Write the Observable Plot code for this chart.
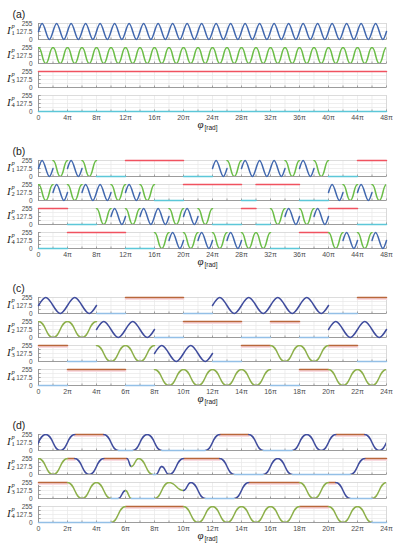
<!DOCTYPE html>
<html><head><meta charset="utf-8">
<script src="https://cdn.jsdelivr.net/npm/d3@7"></script>
<script src="https://cdn.jsdelivr.net/npm/@observablehq/plot@0.6"></script>
<style>
body{margin:0;background:#fff;width:397px;height:550px;overflow:hidden;font-family:"Liberation Sans",Arial,sans-serif}
#chart svg{display:block}
</style></head><body><div id="chart"></div>
<script>
// Segment codes, one character per 2π period:
// B = sine pattern (blue), G = cosine pattern (green), R = held at 255 (red), C = held at 0 (cyan)
const panelA = ["BBBBBBBBBBBBBBBBBBBBBBBB", "GGGGGGGGGGGGGGGGGGGGGGGG", "RRRRRRRRRRRRRRRRRRRRRRRR", "CCCCCCCCCCCCCCCCCCCCCCCC"];
const panelB = ["BGBGCCRRRRCCBGBBBGBGCCRR", "GBGBBGBGCCRRRRCRRRCCBGBG", "RRCCGBGBBGBGCCRCGBGBRRCC", "CCRRRRCCGBGBGBGGCCRRGBGB"];
const panelC = ["BBCRRCBBBBCR", "GGBBCRRCRCBB", "RCGGBBCRGGRC", "CRRCGGGGCRGG"];
// Panel d: knots [φ/π, intensity, colour code of the piece that follows]
const panelD = [
  [[-0.5,0,"B"],[0.5,255,"B"],[1.5,0,"B"],[2.5,255,"R"],[4.5,255,"B"],[5.5,0,"C"],[6.5,0,"B"],[7.5,255,"B"],[8.5,0,"C"],[11.5,0,"B"],[12.5,255,"R"],[14.5,255,"B"],[15.5,0,"C"],[17.5,0,"B"],[18.5,255,"B"],[19.5,0,"B"],[20.5,255,"R"],[22.5,255,"B"],[23.5,0,"B"],[24.5,255,""]],
  [[0,255,"G"],[1,0,"G"],[2,255,"R"],[2.5,255,"B"],[3.5,0,"B"],[4.5,255,"R"],[6.1,255,"B"],[6.4,127.5,"G"],[6.9,255,"G"],[7.9,0,"C"],[8.1,0,"B"],[8.5,127.5,"B"],[9,0,"B"],[10,255,"R"],[12.5,255,"B"],[13.5,0,"C"],[15.5,0,"B"],[16.5,255,"B"],[17.5,0,"C"],[21.5,0,"B"],[22.5,255,"R"],[24,255,""]],
  [[0,255,"R"],[2,255,"G"],[3,0,"G"],[4,255,"G"],[5,0,"C"],[5.5,0,"B"],[6,127.5,"G"],[6.4,0,"C"],[8,0,"G"],[9,255,"G"],[10,127.5,"B"],[10.5,255,"B"],[11.5,0,"C"],[13.5,0,"B"],[14.5,255,"R"],[18,255,"G"],[19,0,"G"],[20,255,"R"],[20.5,255,"B"],[21.5,0,"C"],[23,0,"G"],[24,255,""]],
  [[0,0,"C"],[5,0,"G"],[6,255,"R"],[10,255,"G"],[11,0,"G"],[12,255,"G"],[13,0,"G"],[14,255,"G"],[15,0,"G"],[16,255,"G"],[17,0,"G"],[18,255,"R"],[20,255,"G"],[21,0,"G"],[22,255,"G"],[23,0,"C"],[24,0,""]]
];
const rowNames = ["1", "2", "3", "4"];
const panelLabels = ["(a)", "(b)", "(c)", "(d)"];
const yTicks = [0, 127.5, 255];

const palAB = {B: "#4067ae", G: "#6bbd47", R: "#f0525f", C: "#5cc7d8"};
const palCD = {B: "#3f4c9d", G: "#8db04b", R: "#b8663a", C: "#93bfe6"};
const glowCD = "#fadbe1";

const BQ = [127.5, 255, 127.5, 0];   // sine pattern at quarter periods
const GQ = [255, 127.5, 0, 127.5];   // cosine pattern at quarter periods
function level(code, x) {
  const i = ((Math.round(2 * x) % 4) + 4) % 4;
  return code === "B" ? BQ[i] : GQ[i];
}
function codesToPieces(str) {
  const out = [];
  for (let i = 0; i < str.length; i++) {
    const c = str[i], a = i * 2, b = a + 2;
    if (out.length && out[out.length - 1][2] === c) out[out.length - 1][1] = b;
    else out.push([a, b, c]);
  }
  return out;
}
function buildCodes(rowsPieces) {
  const holds = [], nat = [], bump = [];
  let id = 0;
  rowsPieces.forEach((pieces, r) => {
    pieces.forEach(([a, b, code]) => {
      id++;
      if (code === "R" || code === "C") {
        const v = code === "R" ? 255 : 0;
        holds.push({row: r + 1, id, code, x: a, y: v}, {row: r + 1, id, code, x: b, y: v});
        return;
      }
      const pts = [];
      for (let k = 0; a + k * 0.5 <= b + 1e-9; k++) {
        const x = a + k * 0.5;
        pts.push({row: r + 1, id, code, x, y: level(code, x)});
      }
      if (code === "G") bump.push(...pts.filter(p => p.y !== 127.5));
      else nat.push(...pts);
    });
  });
  return {holds, nat, bump};
}
function buildKnots(rowsKnots) {
  const holds = [], bump = [];
  let id = 0;
  rowsKnots.forEach((knots, r) => {
    for (let i = 0; i < knots.length - 1; i++) {
      id++;
      const [x0, y0, code] = knots[i], [x1, y1] = knots[i + 1];
      const target = (code === "R" || code === "C") ? holds : bump;
      target.push({row: r + 1, id, code, x: x0, y: y0}, {row: r + 1, id, code, x: x1, y: y1});
    }
  });
  return {holds, nat: [], bump};
}

function panel(idx, parts, xmax, step, minor, pal, glow) {
  const {holds, nat, bump} = parts;
  const majors = d3.range(0, xmax + 1e-9, step);
  const minors = d3.range(0, xmax + 1e-9, minor);
  const tx = xmax * 2.2 / 348;
  const rows = [1, 2, 3, 4].map(r => ({row: r, name: rowNames[r - 1]}));
  const first = [{row: 1}], last = [{row: 4}];
  const lw = 1.5;
  const stroke = d => pal[d.code];
  const redHolds = holds.filter(d => d.code === "R");
  return Plot.plot({
    width: 397, height: 137,
    marginTop: 22, marginBottom: 26, marginLeft: 38, marginRight: 11,
    x: {domain: [0, xmax]},
    y: {domain: [0, 255]},
    fy: {domain: [1, 2, 3, 4], paddingInner: 0.34, paddingOuter: 0, axis: null},
    style: {fontFamily: "Liberation Sans, Arial, sans-serif", background: "#fff"},
    marks: [
      Plot.ruleX(minors, {stroke: "#e6e6e6", strokeWidth: 0.7}),
      Plot.ruleY([63.75, 127.5, 191.25], {stroke: "#e8e8e8", strokeWidth: 0.7}),
      Plot.frame({stroke: "#d4d4d4", strokeWidth: 0.8}),
      Plot.ruleX([0], {stroke: "#8c8c8c", strokeWidth: 0.8}),
      Plot.ruleY([0], {stroke: "#8c8c8c", strokeWidth: 0.8}),
      Plot.link(minors, {x1: d => d, x2: d => d, y1: 0, y2: 32, stroke: "#8c8c8c", strokeWidth: 0.8}),
      Plot.link([63.75, 127.5, 191.25, 255], {x1: 0, x2: tx, y1: d => d, y2: d => d, stroke: "#8c8c8c", strokeWidth: 0.8}),
      glow ? Plot.line(redHolds, {x: "x", y: "y", z: "id", fy: "row", stroke: glow, strokeWidth: 2, dy: 1.6}) : null,
      Plot.line(holds, {x: "x", y: "y", z: "id", fy: "row", stroke, strokeWidth: lw}),
      Plot.line(nat, {x: "x", y: "y", z: "id", fy: "row", stroke, strokeWidth: lw, curve: "natural"}),
      Plot.line(bump, {x: "x", y: "y", z: "id", fy: "row", stroke, strokeWidth: lw, curve: "bump-x", clip: true}),
      Plot.axisY({ticks: yTicks, tickSize: 0, tickPadding: 6, fontSize: 6.5, color: "#4d4d4d", label: null, tickFormat: d => String(d)}),
      Plot.axisX({ticks: majors, tickSize: 0, tickPadding: 4, fontSize: 7, color: "#4d4d4d", label: null,
        tickFormat: d => d === 0 ? "0" : d + "π"}),
      Plot.text(rows, {fy: "row", frameAnchor: "left", text: () => "I", dx: -31.5, dy: -1.5, fontFamily: "Liberation Serif, serif", fontStyle: "italic", fontSize: 11, textAnchor: "start", fill: "#222"}),
      Plot.text(rows, {fy: "row", frameAnchor: "left", text: () => "p", dx: -27, dy: -5.8, fontFamily: "Liberation Serif, serif", fontStyle: "italic", fontSize: 6.5, textAnchor: "start", fill: "#222"}),
      Plot.text(rows, {fy: "row", frameAnchor: "left", text: "name", dx: -27, dy: 1.5, fontFamily: "Liberation Serif, serif", fontSize: 6.5, textAnchor: "start", fill: "#222"}),
      Plot.text(first, {fy: "row", frameAnchor: "top-left", text: () => panelLabels[idx], dx: -26, dy: -12.5, fontSize: 10.5, textAnchor: "start", fill: "#222"}),
      Plot.text(last, {fy: "row", frameAnchor: "bottom", text: () => "φ", dx: -12, dy: 16, fontFamily: "Liberation Serif, serif", fontStyle: "italic", fontSize: 11, fill: "#222"}),
      Plot.text(last, {fy: "row", frameAnchor: "bottom", text: () => "[rad]", dx: -8, dy: 18, fontSize: 6.5, textAnchor: "start", fill: "#222"})
    ]
  });
}

const root = document.getElementById("chart");
root.append(panel(0, buildCodes(panelA.map(codesToPieces)), 48, 4, 2, palAB, null));
root.append(panel(1, buildCodes(panelB.map(codesToPieces)), 48, 4, 2, palAB, null));
root.append(panel(2, buildCodes(panelC.map(codesToPieces)), 24, 2, 1, palCD, glowCD));
root.append(panel(3, buildKnots(panelD), 24, 2, 1, palCD, glowCD));
</script></body></html>
